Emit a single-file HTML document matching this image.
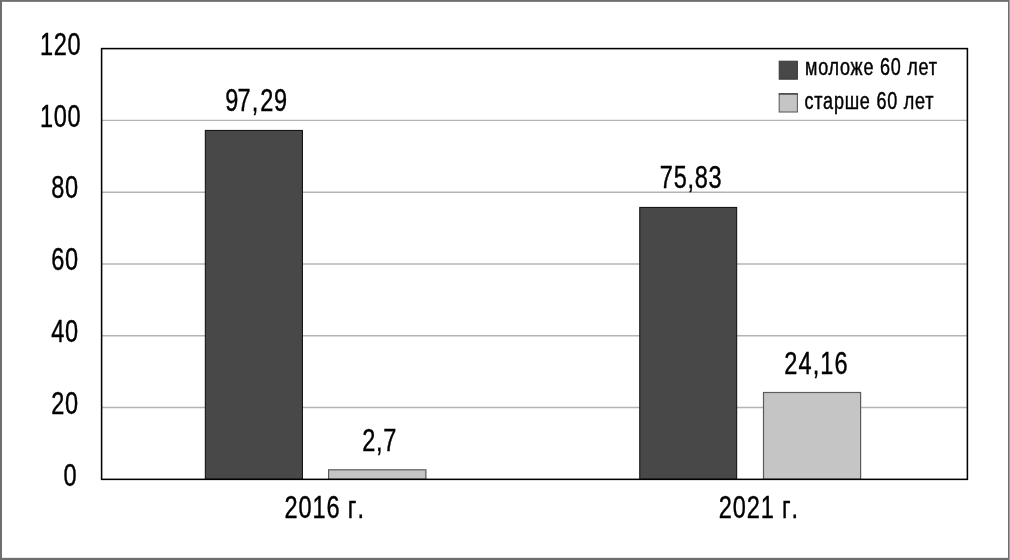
<!DOCTYPE html>
<html lang="ru">
<head>
<meta charset="utf-8">
<title>Диаграмма</title>
<style>
html,body{margin:0;padding:0;background:#fff;}
body{width:1010px;height:560px;overflow:hidden;}
svg{display:block;}
text{font-family:"Liberation Sans",sans-serif;fill:#000;stroke:#000;stroke-width:0.45;}
</style>
</head>
<body>
<svg width="1010" height="560" viewBox="0 0 1010 560">
<rect x="0" y="0" width="1010" height="560" fill="#fff"/>
<rect x="0" y="0" width="1010" height="1.85" fill="#6e6e6e"/>
<rect x="0" y="557.85" width="1010" height="2.15" fill="#6e6e6e"/>
<rect x="0" y="0" width="2" height="560" fill="#6e6e6e"/>
<rect x="1008" y="0" width="1" height="560" fill="#6e6e6e"/>
<rect x="1009" y="0" width="1" height="560" fill="#a0a0a0"/>
<line x1="102" y1="407.52" x2="967.5" y2="407.52" stroke="#b4b4b4" stroke-width="1.4"/>
<line x1="102" y1="335.74" x2="967.5" y2="335.74" stroke="#b4b4b4" stroke-width="1.4"/>
<line x1="102" y1="263.96" x2="967.5" y2="263.96" stroke="#b4b4b4" stroke-width="1.4"/>
<line x1="102" y1="192.18" x2="967.5" y2="192.18" stroke="#b4b4b4" stroke-width="1.4"/>
<line x1="102" y1="120.40" x2="967.5" y2="120.40" stroke="#b4b4b4" stroke-width="1.4"/>
<rect x="205.35" y="130.45" width="97.10" height="348.85" fill="#484848" stroke="#161616" stroke-width="1.1"/>
<rect x="328.60" y="469.80" width="97.30" height="9.50" fill="#c5c5c5" stroke="#5c5c5c" stroke-width="1.2"/>
<rect x="639.75" y="207.45" width="96.90" height="271.85" fill="#484848" stroke="#161616" stroke-width="1.1"/>
<rect x="763.50" y="392.50" width="97.10" height="86.80" fill="#c5c5c5" stroke="#5c5c5c" stroke-width="1.2"/>
<rect x="101.6" y="48.6" width="865.8" height="430.75" fill="none" stroke="#000" stroke-width="1.55"/>
<text transform="translate(39.95,54.92) scale(0.736,1)" font-size="32.0" letter-spacing="1.0">120</text>
<text transform="translate(39.95,126.7) scale(0.736,1)" font-size="32.0" letter-spacing="1.0">100</text>
<text transform="translate(51.25,198.48) scale(0.736,1)" font-size="32.0" letter-spacing="1.0">80</text>
<text transform="translate(51.25,270.26) scale(0.736,1)" font-size="32.0" letter-spacing="1.0">60</text>
<text transform="translate(51.25,342.04) scale(0.736,1)" font-size="32.0" letter-spacing="1.0">40</text>
<text transform="translate(51.25,413.82) scale(0.736,1)" font-size="32.0" letter-spacing="1.0">20</text>
<text transform="translate(63.55,485.6) scale(0.736,1)" font-size="32.0" letter-spacing="1.0">0</text>
<text transform="translate(225.25,110.5) scale(0.736,1)" font-size="32.0" letter-spacing="1.0">9<tspan dx="-2.3">7</tspan><tspan dx="0.7">,</tspan><tspan dx="1.6">29</tspan></text>
<text transform="translate(362.25,450.6) scale(0.736,1)" font-size="32.0" letter-spacing="1.0">2,7</text>
<text transform="translate(659.85,187.7) scale(0.736,1)" font-size="32.0" letter-spacing="1.0">75,83</text>
<text transform="translate(784.25,373.9) scale(0.736,1)" font-size="32.0" letter-spacing="1.5">24,16</text>
<text transform="translate(284.45,517.7) scale(0.736,1)" font-size="32.0" letter-spacing="1.3">2016 <tspan dx="-0.4">г</tspan><tspan dx="0.0">.</tspan></text>
<text transform="translate(718.65,517.7) scale(0.736,1)" font-size="32.0" letter-spacing="1.3">2021 <tspan dx="-0.4">г</tspan><tspan dx="0.0">.</tspan></text>
<rect x="779.2" y="61.2" width="18.2" height="18" fill="#484848" stroke="#383838" stroke-width="1"/>
<rect x="779.2" y="93.9" width="18.2" height="18.1" fill="#c5c5c5" stroke="#606060" stroke-width="1.1"/>
<line x1="778.7" y1="93.9" x2="797.9" y2="93.9" stroke="#2c2c2c" stroke-width="1.1"/>
<text transform="translate(805.05,75) scale(0.766,1)" font-size="23.5" letter-spacing="1.0">моложе 60 лет</text>
<text transform="translate(804.55,108.6) scale(0.766,1)" font-size="23.5" letter-spacing="1.0">старше 60 лет</text>
</svg>
</body>
</html>
